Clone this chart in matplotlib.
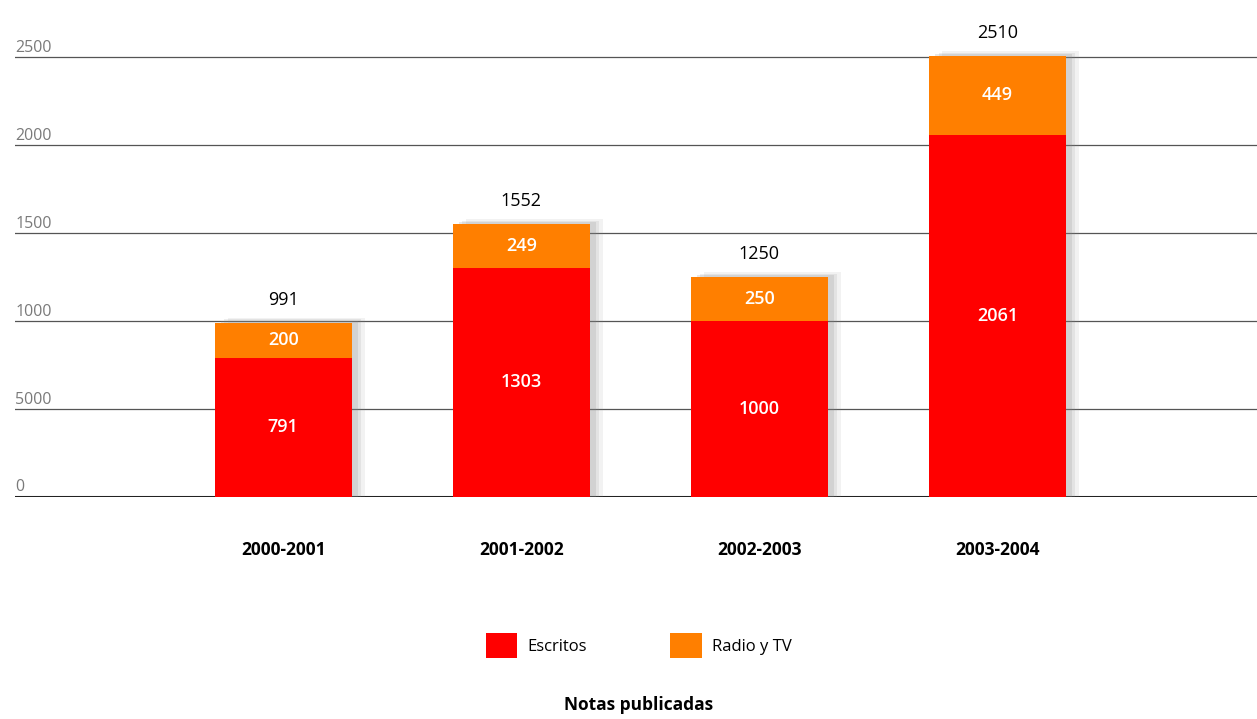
import matplotlib.pyplot as plt
from matplotlib.patches import Patch

plt.rcParams['font.family'] = ['Open Sans', 'DejaVu Sans']

periods = ["2000-2001", "2001-2002", "2002-2003", "2003-2004"]
escritos = [791, 1303, 1000, 2061]
radio_tv = [200, 249, 250, 449]
totals = [991, 1552, 1250, 2510]
y_ticks = [0, 500, 1000, 1500, 2000, 2500]
y_tick_labels = ["0", "5000", "1000", "1500", "2000", "2500"]

RED = "#ff0000"
ORANGE = "#ff7f00"

fig = plt.figure(figsize=(12.57, 7.19), dpi=100)
ax = fig.add_axes([0.012, 0.309, 0.988, 0.66])

x = list(range(len(periods)))
width = 0.575

# soft drop shadow behind the bars
for dx, dy, a in [(0.055, 28, 0.10), (0.04, 18, 0.14), (0.025, 10, 0.18)]:
    ax.bar([i + dx for i in x], [t + dy for t in totals], width=width,
           color="#888888", alpha=a, zorder=2, linewidth=0)

ax.bar(x, escritos, width=width, color=RED, zorder=3, linewidth=0)
ax.bar(x, radio_tv, width=width, bottom=escritos, color=ORANGE, zorder=3, linewidth=0)

for i in x:
    ax.text(i, escritos[i] / 2, str(escritos[i]), ha="center", va="center",
            color="white", fontsize=13, fontweight="semibold", zorder=4)
    ax.text(i, escritos[i] + radio_tv[i] / 2, str(radio_tv[i]), ha="center", va="center",
            color="white", fontsize=13, fontweight="semibold", zorder=4)
    ax.text(i, totals[i] + 80, str(totals[i]), ha="center", va="bottom",
            color="black", fontsize=13, zorder=4)

# grid lines with labels sitting on them
for val, lab in zip(y_ticks, y_tick_labels):
    if val == 0:
        ax.axhline(val, color="#222222", linewidth=2.2, zorder=1)
    else:
        ax.axhline(val, color="#555555", linewidth=0.9, zorder=1)
    ax.text(-1.125, val + 8, lab, ha="left", va="bottom", color="#7a7a7a",
            fontsize=11.5, zorder=4)

ax.set_xlim(-1.126, 4.09)
ax.set_ylim(0, 2700)
ax.axis("off")

for i, p in enumerate(periods):
    ax.text(i, -300, p, ha="center", va="center", fontsize=12.5,
            fontweight="bold", color="black")

handles = [Patch(facecolor=RED, edgecolor="none", label="Escritos"),
           Patch(facecolor=ORANGE, edgecolor="none", label="Radio y TV")]
fig.legend(handles=handles, loc="center", bbox_to_anchor=(0.508, 0.102), ncol=2,
           frameon=False, fontsize=12, handlelength=1.9, handleheight=1.9,
           columnspacing=5.0, handletextpad=0.6)

fig.text(0.508, 0.02, "Notas publicadas", ha="center", va="center",
         fontsize=12.5, fontweight="bold")

fig.savefig("out.png", dpi=100)
